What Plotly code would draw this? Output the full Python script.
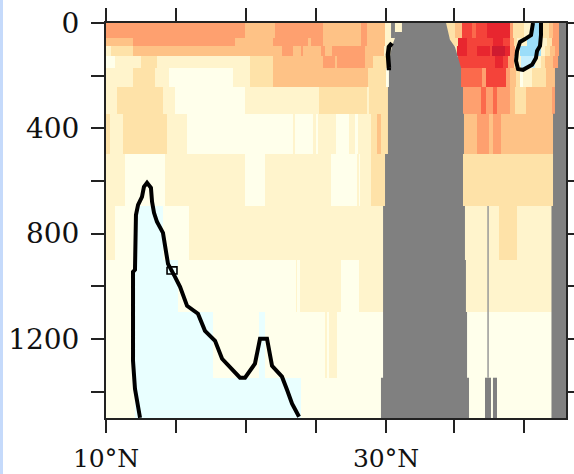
import numpy as np
import plotly.graph_objects as go

# depth band edges (m)
depth_edges = [0, 57, 87, 125, 171, 243, 345, 497, 695, 900, 1097, 1347, 1500]
# each band: (eastern end latitude of a run, colour class)
band_00 = [(19.9,5),(22.07,4),(25.5,5),(28.21,4),(28.64,5),(29.93,4),(30.36,2),(34.29,2),(34.93,3),(35.43,4),(36.14,7),(36.43,6),(37.21,7),(38.86,8),(39.07,5),(39.86,3),(40.36,2),(41.07,-2),(41.64,3),(41.93,4),(43,5)]
band_01 = [(11.93,4),(19.21,5),(21.93,4),(24.43,5),(24.64,4),(25.5,5),(28.21,4),(28.64,5),(29.93,4),(30.64,2),(34.57,2),(35.14,3),(35.79,8),(37.64,7),(38.36,8),(38.86,7),(39.14,5),(39.36,3),(40.07,2),(41.07,-2),(41.5,2),(41.86,3),(43,5)]
band_02 = [(10.36,2),(11.93,3),(22.57,4),(23.36,5),(23.93,4),(24.07,5),(25.36,4),(25.64,5),(26.14,4),(28.5,5),(29.86,4),(30.29,2),(35,2),(35.07,3),(35.79,8),(36.5,7),(37.43,8),(37.57,7),(38.5,9),(38.86,8),(39.21,5),(39.57,2),(41.07,-2),(41.36,2),(41.71,3),(42.07,4),(43,5)]
band_03 = [(10.64,1),(12.5,2),(13.64,3),(20.29,2),(21.93,3),(25.5,4),(26.36,5),(26.5,4),(28.5,5),(29.07,4),(30.07,3),(35.14,1),(37.79,7),(38.36,8),(38.71,7),(39.14,5),(39.36,3),(39.64,2),(40.64,-1),(41.07,2),(41.36,3),(41.93,4),(43,5)]
band_04 = [(11.93,2),(13.5,3),(14.5,2),(19.07,1),(20.29,2),(21.93,3),(28.71,4),(30,3),(30.21,1),(35.36,1),(36.86,6),(37.14,5),(38.57,7),(38.86,5),(39.29,4),(39.57,3),(39.79,1),(40.43,2),(41.43,3),(43,4)]
band_05 = [(10.79,2),(14.07,3),(14.93,2),(19.93,1),(25.21,2),(28.64,3),(28.79,2),(30.14,3),(35.5,3),(36.79,5),(37.14,6),(37.64,5),(37.93,6),(38.86,5),(39.21,4),(40,3),(41.86,4),(43,5)]
band_06 = [(10.29,3),(11.21,2),(14.36,3),(15.79,2),(23.36,1),(23.5,2),(24.79,1),(25,2),(25.14,1),(26.43,2),(27.36,1),(27.79,2),(28,1),(28.93,2),(29.36,3),(29.64,4),(30.14,3),(35.57,3),(36.5,4),(37.36,5),(37.64,4),(38.21,5),(43,4)]
band_07 = [(11.36,2),(14.21,1),(19.93,2),(21.36,1),(26.07,2),(27.93,1),(28.07,2),(28.14,1),(28.93,2),(43,3)]
band_08 = [(10.64,2),(12.21,1),(14.07,0),(15.93,1),(38.07,2),(39.36,3),(43,2)]
band_09 = [(12,1),(15.14,0),(23.57,1),(23.64,2),(23.86,1),(26.79,2),(28.07,1),(43,2)]
band_10 = [(11.93,1),(17.64,0),(20.93,1),(21.36,0),(25.64,1),(25.79,2),(25.93,1),(26.5,2),(43,1)]
band_11 = [(12.07,1),(23.93,0),(43,1)]
bands = [band_00,band_01,band_02,band_03,band_04,band_05,band_06,band_07,band_08,band_09,band_10,band_11]

class_colors = ["#9BDDF9","#C5EEFD","#E9FFFF","#FFFFEB","#FFF4CC","#FEE2A8","#FEC286","#FEA06F","#FB6A4C","#F4433A","#E8262F","#CF1B30"]

# bathymetry mask
ridge_lat = [31.14,31.14,30.64,30.64,30.43,30.29,30.29,30.21,30.21,30.14,30.14,29.93,29.93,29.79,29.79,29.64,29.64,
             35.93,35.93,35.79,35.79,35.71,35.71,35.64,35.64,35.5,35.5,35.57,35.57,35.5,35.5,35.36,35.36,35.14,34.93,34.57,34.29]
ridge_dep = [0,34,34,57,87,125,171,171,243,243,497,497,695,695,1347,1347,1500,
             1500,1347,1347,1097,1097,900,900,695,695,497,497,345,345,243,243,171,125,91,64,0]
east_lat = [42.36,42.36,42.29,42.29,42.07,42.07,41.93,41.93,41.82,41.82,43,43]
east_dep = [0,125,125,171,171,345,345,695,695,1500,1500,0]
stripe_lat = [30.36,30.64,30.64,30.36]
stripe_dep = [0,0,57,57]
bar1_lat = [37.07,37.5,37.5,37.07]
bar2_lat = [37.64,37.93,37.93,37.64]
bar_dep = [1347,1347,1500,1500]
sill_lat = [37.29,37.29]
sill_dep = [695,1347]

# zero contours
c1_lat = [12.43,12.21,12.07,11.93,11.93,12.07,12.07,12.14,12.29,12.57,12.71,12.93,13.21,13.29,13.43,13.64,14.07,14.21,14.43,14.93,15.29,15.79,16.57,17.07,17.79,18.29,19.57,19.93,20.64,21,21.5,21.86,22.57,22.93,23.29,23.79]
c1_dep = [1499,1419,1389,1283,945,937,778,729,691,660,622,607,626,679,721,755,797,850,915,964,1002,1074,1104,1169,1207,1275,1347,1347,1294,1199,1199,1302,1343,1393,1446,1495]
box_lat = [14.36,15.07,15.07,14.36,14.36]
box_dep = [926,926,953,953,926]
c2_lat = [30.43,30.21,30.14,30.21,30.36]
c2_dep = [76,91,121,171,171]
c3_lat = [40.5,40.36,39.93,39.57,39.36,39.29,39.43,39.79,40.43,40.71,40.79,41,41.07,41.07]
c3_dep = [0,46,61,72,106,144,175,178,159,133,106,87,46,0]

lat_ticks = [10,15,20,25,30,34.86,39.86]
lat_labels = ["10°N","","","","30°N","",""]
depth_ticks = [0,200,400,600,800,1000,1200,1400]
depth_labels = ["0","","400","","800","","1200",""]

lat_edges = sorted({10.0} | {e for b in bands for e, _ in b})
centers = [(a+b)/2 for a, b in zip(lat_edges[:-1], lat_edges[1:])]
z = []
for b in bands:
    ends = [e for e, _ in b]
    lv = [v for _, v in b]
    z.append([lv[int(np.searchsorted(ends, c))] for c in centers])

n = len(class_colors)
colorscale = []
for i, col in enumerate(class_colors):
    colorscale += [[i/n, col], [(i+1)/n, col]]

fig = go.Figure()
fig.add_trace(go.Heatmap(x=lat_edges, y=depth_edges, z=z, zmin=-2.5, zmax=9.5, colorscale=colorscale,
                         showscale=False, hoverinfo="skip"))
for lx, ly in [(ridge_lat,ridge_dep),(east_lat,east_dep),(stripe_lat,stripe_dep),(bar1_lat,bar_dep),(bar2_lat,bar_dep)]:
    fig.add_trace(go.Scatter(x=lx, y=ly, mode="lines", fill="toself", fillcolor="#808080",
                             line=dict(width=0, color="#808080"), hoverinfo="skip", showlegend=False))
fig.add_trace(go.Scatter(x=sill_lat, y=sill_dep, mode="lines", line=dict(color="#999999", width=1.5), showlegend=False, hoverinfo="skip"))
for lx, ly, w in [(c1_lat,c1_dep,4),(box_lat,box_dep,1.6),(c2_lat,c2_dep,4.5),(c3_lat,c3_dep,4)]:
    fig.add_trace(go.Scatter(x=lx, y=ly, mode="lines", line=dict(color="#000000", width=w), showlegend=False, hoverinfo="skip"))

axis = dict(showgrid=False, zeroline=False, showline=True, linecolor="#222222", linewidth=2, automargin=False,
            mirror="ticks", ticks="outside", ticklen=13, tickwidth=2, tickcolor="#222222")
fig.update_xaxes(range=[10, 42.857], tickmode="array", tickvals=lat_ticks, ticktext=lat_labels, ticklabelstandoff=4,
                 tickfont=dict(family="DejaVu Serif", size=25, color="#111111"), **axis)
fig.update_yaxes(range=[1500, 0], tickmode="array", tickvals=depth_ticks, ticktext=depth_labels, ticklabelstandoff=6,
                 tickfont=dict(family="DejaVu Serif", size=28, color="#111111"), **axis)
fig.update_layout(width=574, height=474, margin=dict(l=106, r=8, t=23, b=56), paper_bgcolor="white", plot_bgcolor="white",
                  shapes=[dict(type="rect", xref="paper", yref="paper", x0=(0-106)/460, x1=(3-106)/460,
                               y0=-56/395, y1=1+23/395, fillcolor="#C5DAFB", line=dict(width=0), layer="below")])
fig.write_html("out.html", post_script="document.body.style.margin='0';", config=dict(displayModeBar=False))
